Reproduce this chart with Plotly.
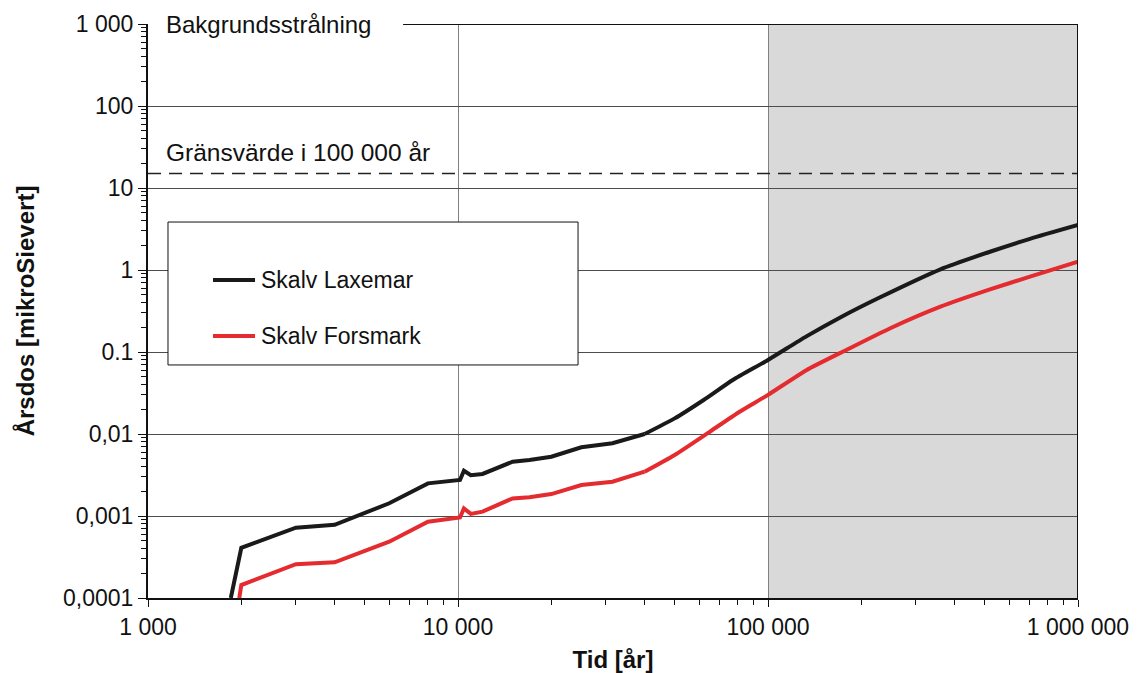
import plotly.graph_objects as go

# Tid [år] and årsdos [mikroSievert] for the two scenarios
laxemar_t = [1850, 2000, 3000, 4000, 6000, 8000, 10150, 10450, 11000, 12000,
             15000, 17000, 20000, 25000, 31500, 40000, 50000, 62000, 77000,
             100000, 133000, 171000, 230000, 360000, 520000, 700000, 1000000]
laxemar_dos = [0.0001, 0.00041, 0.00072, 0.00078, 0.00143, 0.0025, 0.00275,
               0.00356, 0.00314, 0.00326, 0.00459, 0.00481, 0.00529, 0.00689,
               0.00772, 0.01, 0.0155, 0.026, 0.0456, 0.08, 0.155, 0.264,
               0.465, 1.02, 1.67, 2.4, 3.54]

forsmark_t = [1970, 2000, 3000, 4000, 6000, 8000, 10150, 10450, 11000, 12000,
              15000, 17000, 20000, 25000, 31500, 40000, 50000, 65000, 81000,
              100000, 133000, 179000, 248000, 360000, 520000, 700000, 1000000]
forsmark_dos = [0.0001, 0.000144, 0.000258, 0.000272, 0.000486, 0.00085,
                0.00096, 0.00124, 0.00106, 0.00113, 0.00164, 0.00169, 0.00185,
                0.00239, 0.00262, 0.00347, 0.00555, 0.0107, 0.0187, 0.030,
                0.06, 0.106, 0.195, 0.357, 0.58, 0.83, 1.26]

# Reference levels
bakgrund_t = [6650, 1000000]
bakgrund_dos = [1000, 1000]
gransvarde_t = [1000, 1000000]
gransvarde_dos = [15, 15]

x_ticks = [1e3, 1e4, 1e5, 1e6]
x_ticktext = ["1 000", "10 000", "100 000", "1 000 000"]
y_ticks = [1e-4, 1e-3, 1e-2, 1e-1, 1, 10, 100, 1000]
y_ticktext = ["0,0001", "0,001", "0,01", "0.1", "1", "10", "100", "1 000"]

FONT = "Liberation Sans, Arial, sans-serif"
BLACK = "#1a1a1a"
RED = "#e42b2f"

# the early, stepwise part is drawn with straight segments and the
# long-term tail (from 40 000 years) as a smooth curve
SPLIT_T = 40000

fig = go.Figure()

fig.add_trace(go.Scatter(x=gransvarde_t, y=gransvarde_dos, mode="lines",
                         line=dict(color="#222222", width=1.6, dash="13px,8px"),
                         showlegend=False, hoverinfo="skip"))
fig.add_trace(go.Scatter(x=bakgrund_t, y=bakgrund_dos, mode="lines",
                         line=dict(color="#111111", width=2),
                         showlegend=False, hoverinfo="skip", cliponaxis=False))


def add_series(t, dos, name, color):
    k = t.index(SPLIT_T)
    fig.add_trace(go.Scatter(x=t[:k + 1], y=dos[:k + 1], mode="lines",
                             name=name, legendgroup=name, showlegend=False,
                             line=dict(color=color, width=4)))
    fig.add_trace(go.Scatter(x=t[k:], y=dos[k:], mode="lines",
                             name=name, legendgroup=name, showlegend=False,
                             line=dict(color=color, width=4, shape="spline",
                                       smoothing=0.6)))


add_series(laxemar_t, laxemar_dos, "Skalv Laxemar", BLACK)
add_series(forsmark_t, forsmark_dos, "Skalv Forsmark", RED)

shapes = [
    # shaded period beyond 100 000 years
    dict(type="rect", xref="x", yref="y domain", x0=1e5, x1=1e6, y0=0, y1=1,
         fillcolor="#d9d9d9", line=dict(width=0), layer="below"),
    # right frame edge
    dict(type="line", xref="x", yref="y domain", x0=1e6, x1=1e6, y0=0, y1=1,
         line=dict(color="#111111", width=2)),
    # legend box
    dict(type="rect", xref="paper", yref="paper", x0=0.0215, x1=0.4624,
         y0=0.406, y1=0.655, fillcolor="white",
         line=dict(color="#111111", width=1)),
    dict(type="line", xref="paper", yref="paper", x0=0.0699, x1=0.1151,
         y0=0.554, y1=0.554, line=dict(color=BLACK, width=4)),
    dict(type="line", xref="paper", yref="paper", x0=0.0699, x1=0.1151,
         y0=0.4564, y1=0.4564, line=dict(color=RED, width=4)),
]

annotations = [
    dict(text="Bakgrundsstrålning", xref="x", yref="y", x=3.05, y=3.0,
         xanchor="left", yanchor="middle", showarrow=False,
         font=dict(family=FONT, size=24, color="#111111")),
    dict(text="Gränsvärde i 100 000 år", xref="x", yref="y", x=3.05, y=1.427,
         xanchor="left", yanchor="middle", showarrow=False,
         font=dict(family=FONT, size=24.5, color="#111111")),
    dict(text="Skalv Laxemar", xref="paper", yref="paper", x=0.1195, y=0.554,
         xanchor="left", yanchor="middle", showarrow=False,
         font=dict(family=FONT, size=23, color="#111111")),
    dict(text="Skalv Forsmark", xref="paper", yref="paper", x=0.1195, y=0.4564,
         xanchor="left", yanchor="middle", showarrow=False,
         font=dict(family=FONT, size=23, color="#111111")),
]

fig.update_layout(
    width=1141, height=673,
    margin=dict(l=148, r=63, t=24, b=75),
    paper_bgcolor="white", plot_bgcolor="white",
    font=dict(family=FONT, size=20, color="#111111"),
    shapes=shapes, annotations=annotations,
    showlegend=False,
)

fig.update_xaxes(
    type="log", range=[3, 6], automargin=False,
    tickmode="array", tickvals=x_ticks, ticktext=x_ticktext,
    ticks="outside", ticklen=7, tickwidth=1, tickcolor="#111111",
    showline=True, linecolor="#111111", linewidth=2,
    showgrid=True, gridcolor="#808080", gridwidth=1,
    zeroline=False,
    tickfont=dict(family=FONT, size=23, color="#111111"),
    minor=dict(ticks="outside", ticklen=5, tickwidth=1, tickcolor="#111111",
               dtick="D1", showgrid=False),
    title=dict(text="<b>Tid [år]</b>", standoff=23,
               font=dict(family=FONT, size=24, color="#111111")),
)

fig.update_yaxes(
    type="log", range=[-4, 3], automargin=False,
    tickmode="array", tickvals=y_ticks, ticktext=y_ticktext,
    ticks="outside", ticklen=8, tickwidth=1, tickcolor="#111111",
    showline=True, linecolor="#111111", linewidth=2,
    showgrid=True, gridcolor="#4d4d4d", gridwidth=1,
    zeroline=False,
    tickfont=dict(family=FONT, size=23, color="#111111"),
    minor=dict(ticks="outside", ticklen=5, tickwidth=1, tickcolor="#111111",
               dtick="D1", showgrid=False),
    title=dict(text="<b>Årsdos [mikroSievert]</b>", standoff=22,
               font=dict(family=FONT, size=24, color="#111111")),
)

fig.write_html("out.html")
